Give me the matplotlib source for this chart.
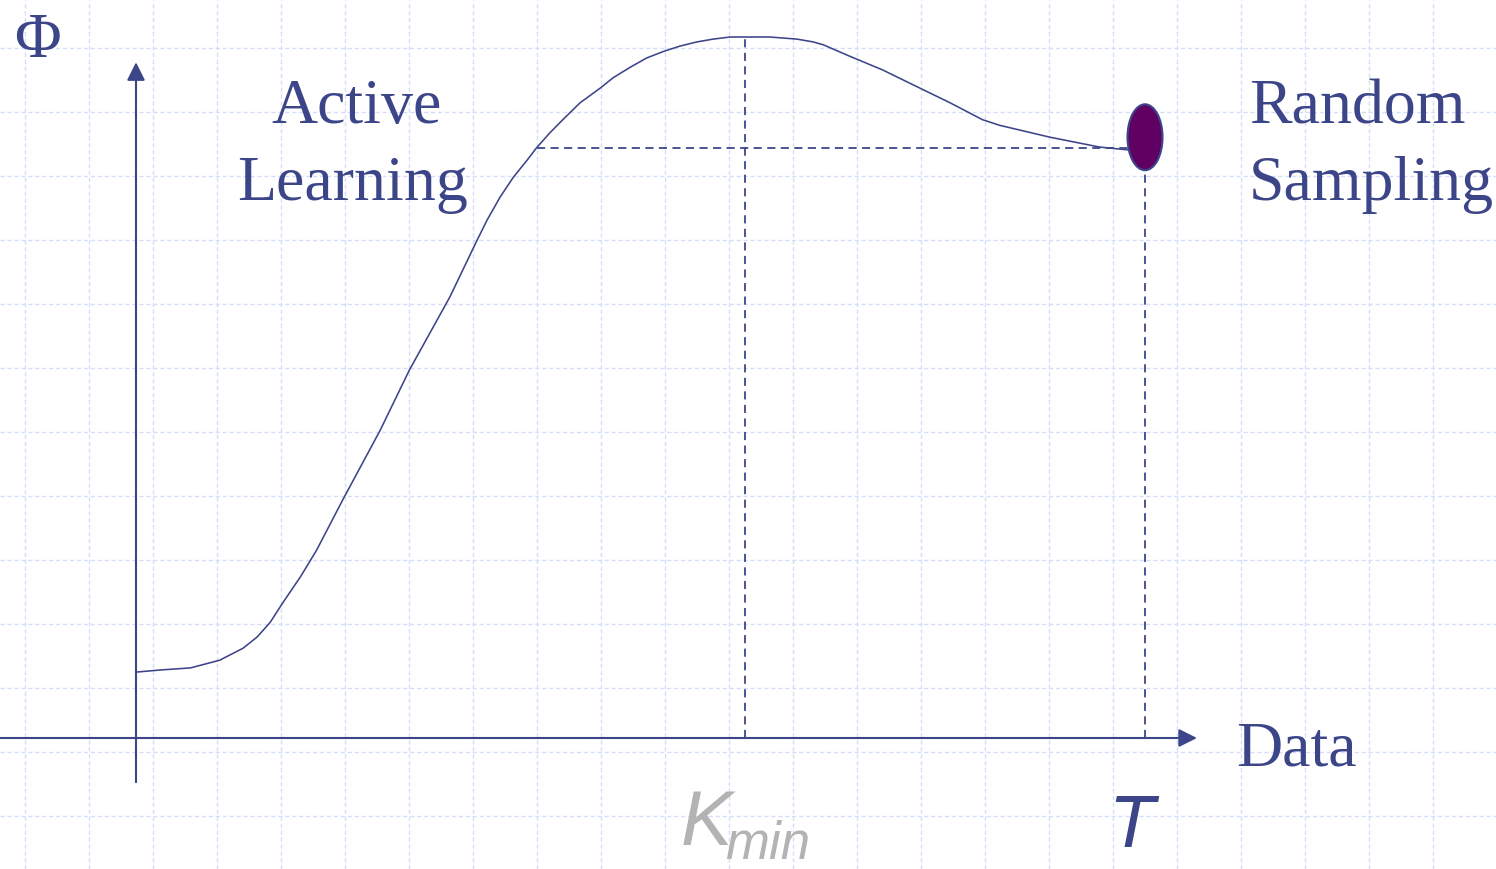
import numpy as np
import matplotlib
matplotlib.use("Agg")
import matplotlib.pyplot as plt
from matplotlib.patches import Ellipse

# curve: Phi vs amount of data (T = 1, peak = 1)
data_x = [0.000, 0.024, 0.054, 0.083, 0.106, 0.120, 0.133, 0.146, 0.163, 0.179,
          0.205, 0.242, 0.271, 0.311, 0.338, 0.348, 0.361, 0.374, 0.388, 0.397,
          0.410, 0.423, 0.440, 0.460, 0.473, 0.490, 0.506, 0.522, 0.539, 0.556,
          0.572, 0.589, 0.606, 0.628, 0.655, 0.671, 0.681, 0.705, 0.740, 0.777,
          0.807, 0.839, 0.856, 0.906, 0.955, 0.983]
phi_y = [0.094, 0.097, 0.100, 0.111, 0.128, 0.144, 0.165, 0.194, 0.230, 0.268,
         0.340, 0.439, 0.525, 0.629, 0.710, 0.739, 0.772, 0.800, 0.825, 0.842,
         0.863, 0.882, 0.906, 0.927, 0.942, 0.957, 0.970, 0.979, 0.987, 0.993,
         0.997, 1.000, 1.000, 1.000, 0.997, 0.993, 0.989, 0.974, 0.953, 0.927,
         0.906, 0.882, 0.874, 0.857, 0.843, 0.839]

k_min = 0.604
t_end = 1.0
phi_random = 0.842
phi_dot = 0.857

blue = "#3d4589"
grey = "#b3b3b3"
purple = "#600062"

fig = plt.figure(figsize=(14.96, 8.69), dpi=100)

# background grid in pixel space
bg = fig.add_axes([0, 0, 1, 1], zorder=0)
bg.set_xlim(0, 1496)
bg.set_ylim(869, 0)
bg.set_xticks(np.arange(25, 1496, 64))
bg.set_yticks(np.arange(48, 869, 64))
bg.grid(True, color="#d4ddfb", lw=1.0, ls=(0, (3, 2)))
bg.tick_params(length=0, labelbottom=False, labelleft=False)
for s in bg.spines.values():
    s.set_visible(False)

ax = fig.add_axes([0, 0, 1, 1], zorder=1)
ax.patch.set_alpha(0)
ax.set_xlim(-136 / 1009, 1360 / 1009)
ax.set_ylim((738 - 869) / 701, 738 / 701)
ax.axis("off")

# axes with arrows
ax.annotate("", xy=(1.0515, 0), xytext=(-0.14, 0),
            arrowprops=dict(arrowstyle="-|>,head_length=1.0,head_width=0.5",
                            mutation_scale=11, lw=1.5, color=blue,
                            shrinkA=0, shrinkB=0))
ax.annotate("", xy=(0, 0.964), xytext=(0, -0.063),
            arrowprops=dict(arrowstyle="-|>,head_length=1.0,head_width=0.5",
                            mutation_scale=11, lw=1.5, color=blue,
                            shrinkA=0, shrinkB=0))

ax.plot(data_x, phi_y, color=blue, lw=1.15, solid_joinstyle="round")

dash = (0, (4.5, 3))
ax.plot([data_x[19], data_x[-1]], [phi_random, phi_random], color=blue, lw=1.3, ls=dash)
ax.plot([k_min, k_min], [0, 1.0], color=blue, lw=1.3, ls=dash)
ax.plot([t_end, t_end], [0, 0.81], color=blue, lw=1.3, ls=dash)

ax.add_patch(Ellipse((t_end, phi_dot), 0.0347, 0.094, fc=purple, ec=blue, lw=1.5, zorder=5))

serif = "Liberation Serif"
sans = "Liberation Sans"
fig.text(37 / 1496, 1 - 57 / 869, "Φ", family=serif, size=46, color=blue,
         ha="center", va="baseline")
fig.text(357 / 1496, 1 - 123 / 869, "Active", family=serif, size=46, color=blue,
         ha="center", va="baseline")
fig.text(353 / 1496, 1 - 200 / 869, "Learning", family=serif, size=46, color=blue,
         ha="center", va="baseline")
fig.text(1249 / 1496, 1 - 123 / 869, "Random", family=serif, size=46, color=blue,
         ha="left", va="baseline")
fig.text(1249 / 1496, 1 - 200 / 869, "Sampling", family=serif, size=46, color=blue,
         ha="left", va="baseline")
fig.text(1236 / 1496, 1 - 765 / 869, "Data", family=serif, size=46, color=blue,
         ha="left", va="baseline")

fig.text(681 / 1496, 1 - 845 / 869, "K", family=sans, style="italic", size=56,
         color=grey, ha="left", va="baseline")
fig.text(725 / 1496, 1 - 859 / 869, "min", family=sans, style="italic", size=38,
         color=grey, ha="left", va="baseline")
fig.text(1108 / 1496, 1 - 847 / 869, "T", family=sans, style="italic", size=54,
         color=blue, ha="left", va="baseline")

fig.savefig("out.png", dpi=100)
